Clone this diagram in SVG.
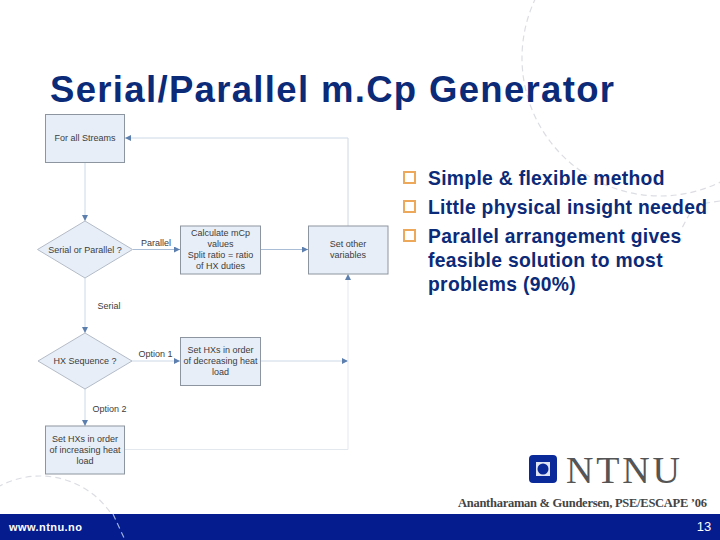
<svg xmlns="http://www.w3.org/2000/svg" width="720" height="540" viewBox="0 0 720 540">
<style>
.n{fill:#e8eef7;stroke:#8d96a0;stroke-width:1}
.m{fill:#e8eef7;stroke:#b4bcc8;stroke-width:1}
.t{font-family:"Liberation Sans",Arial,sans-serif;font-size:9px;fill:#3c3c3c;text-anchor:middle}
.c{fill:none;stroke:#cdd8e6;stroke-width:1}
.d{fill:none;stroke:#dcdde3;stroke-width:1.2;stroke-dasharray:6 4}
.b{font-family:"Liberation Sans",Arial,sans-serif;font-size:19.3px;font-weight:bold;fill:#0b2a78;letter-spacing:.31px}
.q{fill:#fff;stroke:#eda85a;stroke-width:2}
</style>
<defs>
<marker id="a" markerWidth="6" markerHeight="6" refX="6" refY="3" orient="auto" markerUnits="userSpaceOnUse"><path d="M0 0L6 3L0 6Z" fill="#5c7fae"/></marker>
</defs>
<rect width="720" height="540" fill="#fff"/>
<g id="decor">
<circle class="d" cx="660" cy="58" r="138"/>
<circle class="d" cx="40" cy="562" r="86"/>
<path class="d" d="M720 201L700 204M690 213L682 228"/>
</g>
<text x="50" y="102" font-family="'Liberation Sans',Arial,sans-serif" font-size="36.500" font-weight="bold" fill="#0b2a78" textLength="564" lengthAdjust="spacing">Serial/Parallel m.Cp Generator</text>
<g id="connectors">
<path class="c" d="M348 226V138H125" marker-end="url(#a)"/>
<path class="c" d="M85 162V221" marker-end="url(#a)"/>
<path class="c" d="M133 249.500H180" marker-end="url(#a)" style="stroke:#a9bdd6"/>
<path class="c" d="M261 249.500H308" marker-end="url(#a)" style="stroke:#a9bdd6"/>
<path class="c" d="M85 278V333" marker-end="url(#a)"/>
<path class="c" d="M132 361H180" marker-end="url(#a)"/>
<path class="c" d="M261 361H348" marker-end="url(#a)"/>
<path class="c" d="M85 389V426" marker-end="url(#a)"/>
<path class="c" d="M124 449.500H348V274" marker-end="url(#a)" style="stroke:#e3e8ef"/>
</g>
<text class="t" x="156" y="245.500">Parallel</text>
<text class="t" x="109" y="309">Serial</text>
<text class="t" x="155.500" y="357">Option 1</text>
<text class="t" x="109.500" y="412">Option 2</text>
<g id="n1"><rect class="n" x="45.500" y="114.500" width="79" height="48"/><text class="t" x="85" y="140.500">For all Streams</text></g>
<g id="n2"><path class="m" d="M37.500 249.500L85 221L132.500 249.500L85 278Z"/><text class="t" x="85" y="252.700">Serial or Parallel ?</text></g>
<g id="n3"><rect class="n" x="180.500" y="226" width="80" height="48"/><text class="t" x="220.500" y="236">Calculate mCp</text><text class="t" x="220.500" y="247">values</text><text class="t" x="220.500" y="258">Split ratio = ratio</text><text class="t" x="220.500" y="269">of HX duties</text></g>
<g id="n4"><rect class="n" x="308.500" y="226" width="79.500" height="48"/><text class="t" x="348" y="247">Set other</text><text class="t" x="348" y="258">variables</text></g>
<g id="n5"><path class="m" d="M38 361L85 333L132 361L85 389Z"/><text class="t" x="85" y="364">HX Sequence ?</text></g>
<g id="n6"><rect class="n" x="180.500" y="337.500" width="80" height="48"/><text class="t" x="220.500" y="353">Set HXs in order</text><text class="t" x="220.500" y="364">of decreasing heat</text><text class="t" x="220.500" y="375">load</text></g>
<g id="n7"><rect class="n" x="45.500" y="426" width="79" height="48"/><text class="t" x="85" y="441.700">Set HXs in order</text><text class="t" x="85" y="453">of increasing heat</text><text class="t" x="85" y="464">load</text></g>
<g id="bullets">
<rect class="q" x="404" y="172" width="11" height="11"/>
<rect class="q" x="404" y="201" width="11" height="11"/>
<rect class="q" x="404" y="230" width="11" height="11"/>
<text class="b" x="428" y="185">Simple &amp; flexible method</text>
<text class="b" x="428" y="214">Little physical insight needed</text>
<text class="b" x="428" y="243">Parallel arrangement gives</text>
<text class="b" x="428" y="267">feasible solution to most</text>
<text class="b" x="428" y="291">problems (90%)</text>
</g>
<g id="logo">
<rect x="529" y="455" width="28" height="28" rx="4" fill="#0a2a9a"/>
<rect x="536" y="462" width="14" height="14" fill="#dfe5f2"/>
<circle cx="543" cy="469" r="5.500" fill="#0a2a9a"/>
<text x="566" y="483" font-family="'Liberation Serif','Times New Roman',serif" font-size="38" fill="#555" textLength="114" lengthAdjust="spacing">NTNU</text>
</g>
<text x="458" y="507" font-family="'Liberation Serif','Times New Roman',serif" font-size="12.500" font-weight="bold" fill="#444" textLength="249" lengthAdjust="spacing">Anantharaman &amp; Gundersen, PSE/ESCAPE ’06</text>
<rect y="514" width="720" height="26" fill="#041c8e"/>
<path d="M113 514L125 540" fill="none" stroke="#9fb0e0" stroke-width="1.200" stroke-dasharray="6 4"/>
<text x="9" y="530.500" font-family="'Liberation Sans',Arial,sans-serif" font-size="11" font-weight="bold" fill="#fff" textLength="73">www.ntnu.no</text>
<text x="704" y="531" font-family="'Liberation Sans',Arial,sans-serif" font-size="13" fill="#fff" text-anchor="middle">13</text>
</svg>
